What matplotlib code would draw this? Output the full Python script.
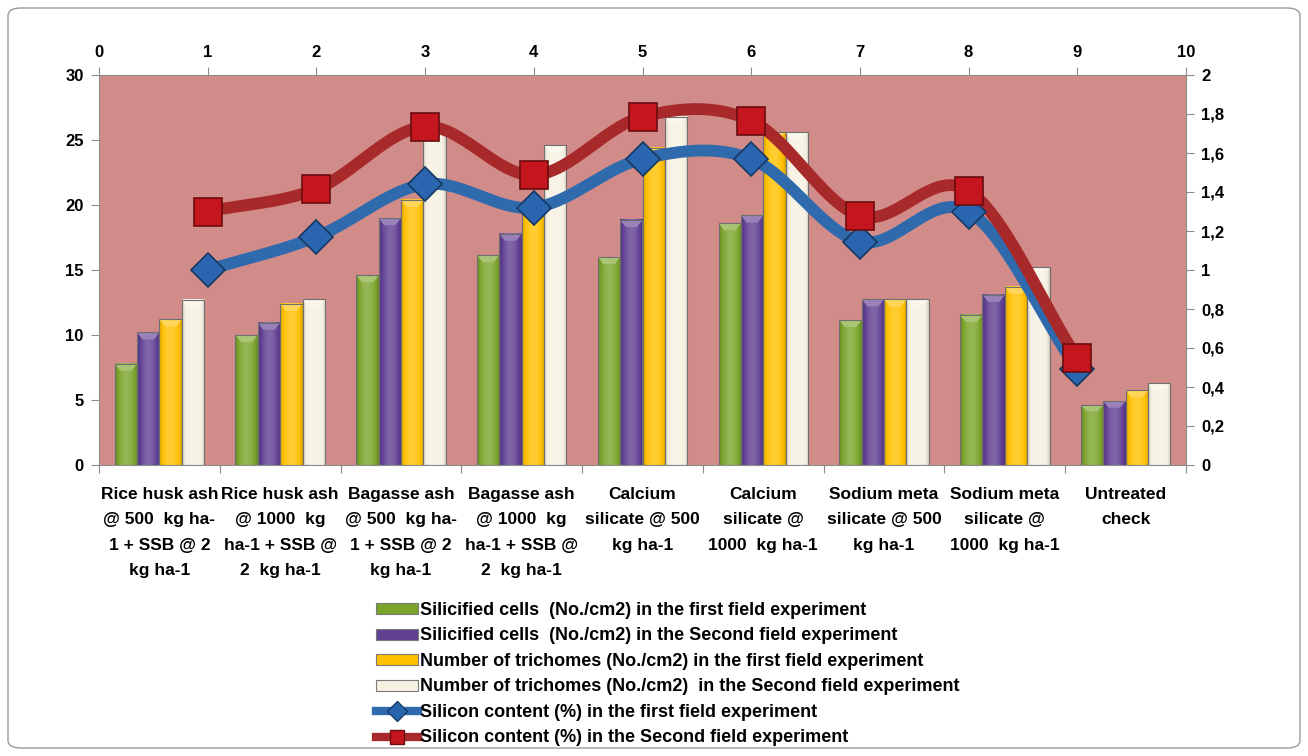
import numpy as np
import matplotlib
matplotlib.use("Agg")
import matplotlib.pyplot as plt
from matplotlib.patches import Rectangle, Polygon, Patch, FancyBboxPatch
from matplotlib.lines import Line2D
from matplotlib.colors import to_rgb

plt.rcParams['font.family'] = ['Liberation Sans Narrow', 'Liberation Sans', 'DejaVu Sans']
plt.rcParams['font.weight'] = 'bold'

# ── DATA ──────────────────────────────────────────────────────────────────────
CATEGORIES = [
    "Rice husk ash\n@ 500  kg ha-\n1 + SSB @ 2\nkg ha-1",
    "Rice husk ash\n@ 1000  kg\nha-1 + SSB @\n2  kg ha-1",
    "Bagasse ash\n@ 500  kg ha-\n1 + SSB @ 2\nkg ha-1",
    "Bagasse ash\n@ 1000  kg\nha-1 + SSB @\n2  kg ha-1",
    "Calcium\nsilicate @ 500\nkg ha-1",
    "Calcium\nsilicate @\n1000  kg ha-1",
    "Sodium meta\nsilicate @ 500\nkg ha-1",
    "Sodium meta\nsilicate @\n1000  kg ha-1",
    "Untreated\ncheck",
]

silicified_1 = [7.8, 10.0, 14.6, 16.15, 16.0, 18.6, 11.15, 11.55, 4.6]
silicified_2 = [10.2, 10.95, 19.0, 17.8, 18.85, 19.2, 12.75, 13.1, 4.9]
trichomes_1 = [11.2, 12.4, 20.4, 20.0, 24.4, 25.6, 12.75, 13.7, 5.75]
trichomes_2 = [12.7, 12.75, 26.0, 24.6, 26.8, 25.6, 12.75, 15.2, 6.3]

line_x = [1, 2, 3, 4, 5, 6, 7, 8, 9]
silicon_1 = [1.00, 1.17, 1.44, 1.32, 1.57, 1.57, 1.145, 1.30, 0.49]
silicon_2 = [1.30, 1.415, 1.735, 1.487, 1.786, 1.766, 1.277, 1.407, 0.547]

BAR_LABELS = [
    "Silicified cells  (No./cm2) in the first field experiment",
    "Silicified cells  (No./cm2) in the Second field experiment",
    "Number of trichomes (No./cm2) in the first field experiment",
    "Number of trichomes (No./cm2)  in the Second field experiment",
]
LINE_LABELS = [
    "Silicon content (%) in the first field experiment",
    "Silicon content (%) in the Second field experiment",
]

BAR_COLORS = ["#7ba42b", "#613f93", "#ffc000", "#f6f1e1"]
BLUE, RED = "#2f6aad", "#a8292a"
PLOT_BG = "#d18c8a"
AXIS_GRAY = "#8c8c8c"


def shade(c, f):
    r, g, b = to_rgb(c)
    if f >= 0:
        return (r + (1 - r) * f, g + (1 - g) * f, b + (1 - b) * f)
    return (r * (1 + f), g * (1 + f), b * (1 + f))


def catmull_rom(xs, ys, n=30):
    px = np.r_[2 * xs[0] - xs[1], xs, 2 * xs[-1] - xs[-2]]
    py = np.r_[2 * ys[0] - ys[1], ys, 2 * ys[-1] - ys[-2]]
    out_x, out_y = [], []
    t = np.linspace(0, 1, n)
    for i in range(1, len(px) - 2):
        for p, out in ((px, out_x), (py, out_y)):
            p0, p1, p2, p3 = p[i - 1], p[i], p[i + 1], p[i + 2]
            out.extend(0.5 * (2 * p1 + (-p0 + p2) * t
                              + (2 * p0 - 5 * p1 + 4 * p2 - p3) * t ** 2
                              + (-p0 + 3 * p1 - 3 * p2 + p3) * t ** 3))
    return np.array(out_x), np.array(out_y)


def draw_bar(ax, x0, w, h, color):
    # horizontal gradient body
    grad = np.linspace(0, 1, 64)
    prof = 0.35 * np.sin(np.pi * grad) - 0.15
    img = np.array([shade(color, f) for f in prof])[None, :, :]
    ax.imshow(img, extent=(x0, x0 + w, 0, h), aspect="auto", zorder=2,
              interpolation="bilinear")
    cap = min(0.55, h * 0.1)
    ax.add_patch(Polygon([(x0, h), (x0 + w, h), (x0 + w * 0.75, h - cap),
                          (x0 + w * 0.25, h - cap)], closed=True,
                         facecolor=shade(color, 0.35), edgecolor="none", zorder=3))
    ax.add_patch(Rectangle((x0, 0), w, h, facecolor="none",
                           edgecolor="#6f6f6f", linewidth=0.8, zorder=3))


fig = plt.figure(figsize=(13.08, 7.56), dpi=100)
fig.patch.set_facecolor("white")
fig.patches.append(FancyBboxPatch((8 / 1308, 8 / 756), 1292 / 1308, 740 / 756,
                                  boxstyle="round,pad=0,rounding_size=0.01",
                                  transform=fig.transFigure, facecolor="none",
                                  edgecolor="#9a9a9a", linewidth=1.0))

pos = [99 / 1308, 1 - 465 / 756, (1186 - 99) / 1308, (465 - 75) / 756]
ax = fig.add_axes(pos)
ax.set_facecolor(PLOT_BG)

n = len(CATEGORIES)
bw = 0.185
series = [silicified_1, silicified_2, trichomes_1, trichomes_2]
for k, (vals, col) in enumerate(zip(series, BAR_COLORS)):
    for i, v in enumerate(vals):
        draw_bar(ax, i - 2 * bw + k * bw, bw, v, col)

ax.set_xlim(-0.5, n - 0.5)
ax.set_ylim(0, 30)
ax.set_yticks(np.arange(0, 31, 5))
ax.set_xticks(np.arange(-0.5, n, 1.0))
ax.set_xticklabels([])
ax.set_xticks(np.arange(n), minor=True)
ax.set_xticklabels(CATEGORIES, minor=True, fontsize=12.5, fontweight="bold",
                   linespacing=1.85, va="top")
ax.tick_params(axis="x", which="minor", length=0, pad=16)
ax.tick_params(axis="x", which="major", length=6, color=AXIS_GRAY, direction="out")
ax.tick_params(axis="y", length=6, color=AXIS_GRAY, labelsize=12, pad=5)
for s in ax.spines.values():
    s.set_color(AXIS_GRAY)

# secondary axes for silicon content (top x 0-10, right y 0-2)
ax2 = fig.add_axes(pos, frameon=False)
ax2.set_xlim(0, 10)
ax2.set_ylim(0, 2)
ax2.xaxis.tick_top()
ax2.yaxis.tick_right()
ax2.set_xticks(range(0, 11))
ax2.set_yticks(np.arange(0, 2.01, 0.2))
ax2.set_yticklabels([("%g" % v).replace(".", ",") for v in np.arange(0, 2.01, 0.2)])
ax2.tick_params(length=6, color=AXIS_GRAY, labelsize=12, pad=5)

for ys, col, mk, ms, mc in ((silicon_1, BLUE, "D", 17, "#2a66b0"),
                            (silicon_2, RED, "s", 20, "#c4161c")):
    sx, sy = catmull_rom(np.array(line_x, float), np.array(ys, float))
    ax2.plot(sx, sy, color=col, linewidth=8.5, solid_capstyle="round", zorder=4)
    ax2.plot(line_x, ys, linestyle="none", marker=mk, markersize=ms,
             markerfacecolor=mc, markeredgecolor=shade(mc, -0.45),
             markeredgewidth=1.2, zorder=5)

handles = [Patch(facecolor=c, edgecolor="#7a7a7a", linewidth=0.8) for c in BAR_COLORS]
handles += [Line2D([], [], color=BLUE, linewidth=6, marker="D", markersize=10,
                   markerfacecolor="#2a66b0", markeredgecolor="#173d6b"),
            Line2D([], [], color=RED, linewidth=6, marker="s", markersize=10,
                   markerfacecolor="#c4161c", markeredgecolor="#6b0c10")]
fig.legend(handles, BAR_LABELS + LINE_LABELS, loc="upper left",
           bbox_to_anchor=(376 / 1308, 1 - 602 / 756), frameon=False,
           prop={"size": 13, "weight": "bold"}, handlelength=2.3,
           handleheight=0.55, handletextpad=0.15, labelspacing=0.47,
           borderpad=0, borderaxespad=0)

fig.savefig("out.png", dpi=100)
